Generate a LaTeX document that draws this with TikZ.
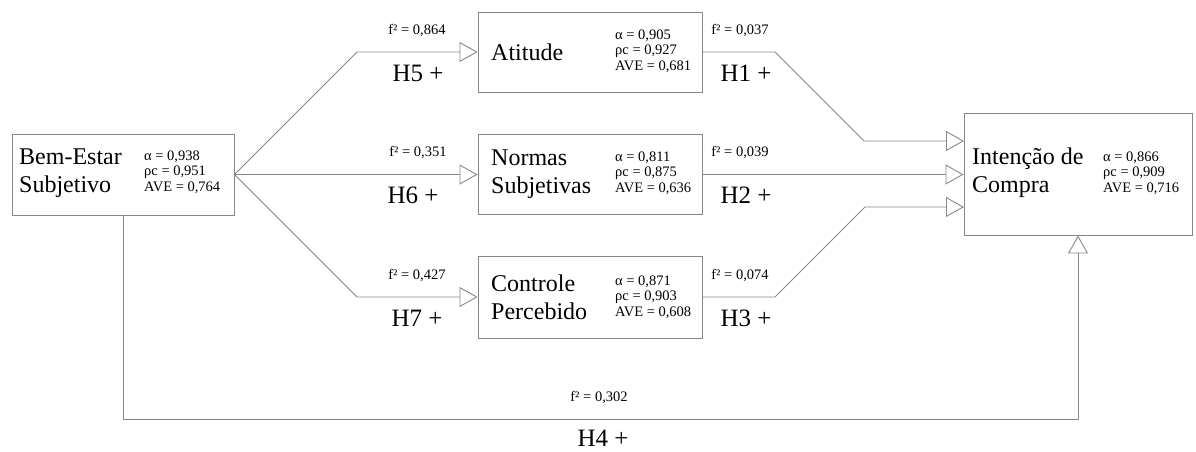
\documentclass[tikz,border=0pt]{standalone}
\usepackage{fontspec}
\setmainfont{Liberation Serif}
\newfontfamily\serifface{Liberation Serif}
\usetikzlibrary{arrows.meta}

\definecolor{linegray}{RGB}{135,135,135}
\tikzset{
  construct/.style={draw=linegray, line width=0.9pt, fill=white, inner sep=0pt, minimum width=224pt},
  title/.style={anchor=west, align=left, inner sep=0pt, font=\serifface\fontsize{24}{28}\selectfont},
  stats/.style={anchor=west, align=left, inner sep=0pt, font=\serifface\fontsize{14.5}{15.5}\selectfont},
  effect/.style={inner sep=0pt, font=\serifface\fontsize{14.5}{16}\selectfont},
  hyp/.style={inner sep=0pt, font=\serifface\fontsize{25}{28}\selectfont},
  path/.style={draw=linegray, line width=0.9pt, -{Triangle[open, length=18pt, width=20pt, line width=0.9pt]}},
}

\begin{document}
\begin{tikzpicture}[x=1pt, y=-1pt]
\useasboundingbox (0,0) rectangle (1196,451);

% constructs
\node[construct, minimum width=222pt, minimum height=81pt] (bem) at (123,174.5) {};
\node[construct, minimum height=80pt] (ati) at (590,52) {};
\node[construct, minimum height=80pt] (nor) at (590,174.5) {};
\node[construct, minimum height=82pt] (con) at (590,297) {};
\node[construct, minimum width=228pt, minimum height=122pt] (int) at (1078,174) {};

% names and reliability figures
\node[title] (bemT) at (19,173) {Bem-Estar\\Subjetivo};
\node[stats] (bemS) at (144,172) {α = 0,938\\ρc = 0,951\\AVE = 0,764};
\node[title] (atiT) at (491,52) {Atitude};
\node[stats] (atiS) at (615,51) {α = 0,905\\ρc = 0,927\\AVE = 0,681};
\node[title] (norT) at (491,174) {Normas\\Subjetivas};
\node[stats] (norS) at (615,173) {α = 0,811\\ρc = 0,875\\AVE = 0,636};
\node[title] (conT) at (491,297) {Controle\\Percebido};
\node[stats] (conS) at (615,297) {α = 0,871\\ρc = 0,903\\AVE = 0,608};
\node[title] (intT) at (972,173) {Intenção de\\Compra};
\node[stats] (intS) at (1103,173) {α = 0,866\\ρc = 0,909\\AVE = 0,716};

% bend points
\coordinate (b5) at (357,52);
\coordinate (b7) at (357,297);
\coordinate (a1) at (775,52);
\coordinate (a1b) at (864,141);
\coordinate (e1) at (964,141);
\coordinate (a3) at (775,297);
\coordinate (a3b) at (865,207);
\coordinate (e3) at (964,207);
\coordinate (d4) at (123,419);
\coordinate (c4) at (1078,419);

% structural paths
\draw[path] (bem.east) -- (b5) -- (ati.west);
\draw[path] (bem.east) -- (nor.west);
\draw[path] (bem.east) -- (b7) -- (con.west);
\draw[path] (ati.east) -- (a1) -- (a1b) -- (e1);
\draw[path] (nor.east) -- (int.west |- nor.east);
\draw[path] (con.east) -- (a3) -- (a3b) -- (e3);
\draw[path] (bem.south) -- (d4) -- (c4) -- (int.south);

% effect sizes and hypotheses
\node[effect] (f5) at (417,31) {f² = 0,864};
\node[hyp] (h5) at (418,73) {H5 +};
\node[effect] (f6) at (418,153) {f² = 0,351};
\node[hyp] (h6) at (413,195) {H6 +};
\node[effect] (f7) at (417,276) {f² = 0,427};
\node[hyp] (h7) at (417,318) {H7 +};
\node[effect] (f1) at (740,31) {f² = 0,037};
\node[hyp] (h1) at (746,73) {H1 +};
\node[effect] (f2) at (740,153) {f² = 0,039};
\node[hyp] (h2) at (746,195) {H2 +};
\node[effect] (f3) at (740,276) {f² = 0,074};
\node[hyp] (h3) at (746,318) {H3 +};
\node[effect] (f4) at (599,397) {f² = 0,302};
\node[hyp] (h4) at (603,438) {H4 +};
\end{tikzpicture}
\end{document}
